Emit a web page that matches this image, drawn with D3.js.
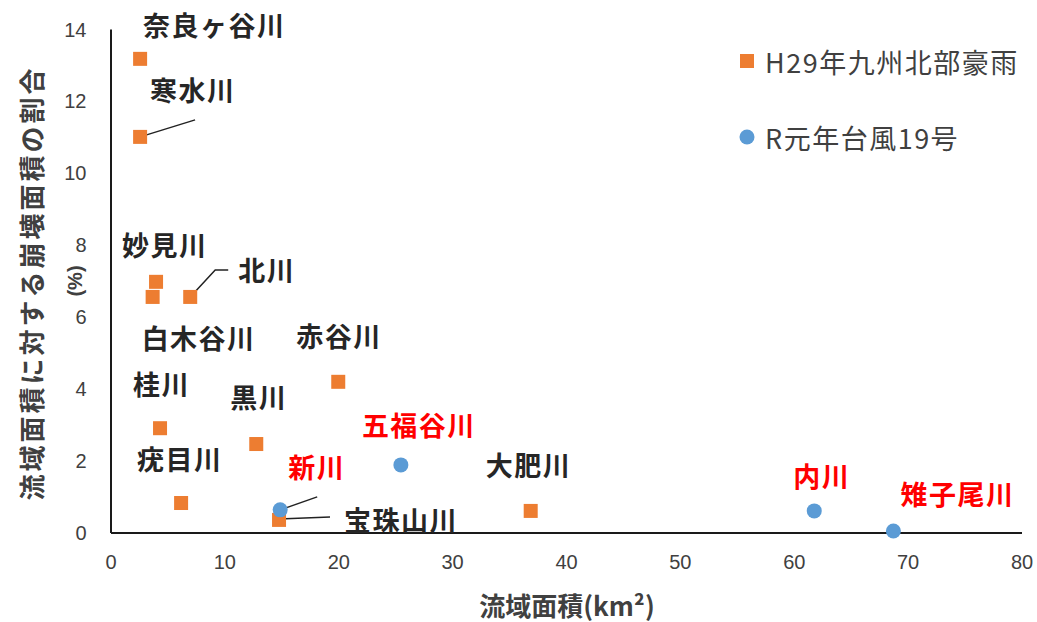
<!DOCTYPE html>
<html>
<head>
<meta charset="utf-8">
<script src="https://cdn.jsdelivr.net/npm/d3@7"></script>
<style>
  body { margin: 0; background: #fff; }
  svg { display: block; }
</style>
</head>
<body>
<svg id="chart" width="1037" height="622"></svg>
<script>
// H29年九州北部豪雨 rivers
const h29Names = ["奈良ヶ谷川", "寒水川", "妙見川", "白木谷川", "北川", "赤谷川", "桂川", "黒川", "疣目川", "宝珠山川", "大肥川"];
const h29Area  = [2.6, 2.6, 4.0, 3.7, 7.0, 20.0, 4.35, 12.8, 6.2, 14.8, 36.9];
const h29Ratio = [13.17, 11.0, 6.97, 6.55, 6.55, 4.19, 2.9, 2.46, 0.82, 0.35, 0.6];

// R元年台風19号 rivers
const r1Names = ["新川", "五福谷川", "内川", "雉子尾川"];
const r1Area  = [14.9, 25.5, 61.8, 68.75];
const r1Ratio = [0.63, 1.88, 0.6, 0.04];

const seriesNames = ["H29年九州北部豪雨", "R元年台風19号"];
const xTicks = [0, 10, 20, 30, 40, 50, 60, 70, 80];
const yTicks = [0, 2, 4, 6, 8, 10, 12, 14];
const xTitle = "流域面積(km²)";
const yTitle = "流域面積に対する崩壊面積の割合";
const yUnit = "(%)";

// label placement: offsets (px) from the marker, optional leader polyline
const labelLayout = {
  "奈良ヶ谷川": { dx: 3,   dy: -34 },
  "寒水川":     { dx: 10,  dy: -47, leader: [[0, 0], [55, -17]] },
  "妙見川":     { dx: -34, dy: -37 },
  "白木谷川":   { dx: -11, dy: 41 },
  "北川":       { dx: 48,  dy: -27, leader: [[0, 0], [25, -27], [38, -27]] },
  "赤谷川":     { dx: -42, dy: -46 },
  "桂川":       { dx: -27, dy: -45 },
  "黒川":       { dx: -26, dy: -48 },
  "疣目川":     { dx: -44, dy: -45 },
  "宝珠山川":   { dx: 65,  dy: 0,   leader: [[0, -1], [51, -3]] },
  "大肥川":     { dx: -45, dy: -46 },
  "新川":       { dx: 8,   dy: -43, leader: [[0, 0], [37, -13]] },
  "五福谷川":   { dx: -39, dy: -40 },
  "内川":       { dx: -21, dy: -35 },
  "雉子尾川":   { dx: 7,   dy: -38 }
};

const orange = "#ED7D31";
const blue = "#5B9BD5";
const cjk = "'Noto Sans CJK JP', 'Noto Sans', sans-serif";
const latin = "'Liberation Sans', Arial, sans-serif";

const svg = d3.select("#chart");
const x = d3.scaleLinear().domain([0, 80]).range([110.5, 1021.5]);
const y = d3.scaleLinear().domain([0, 14]).range([532.5, 29]);

// axes (no tick marks, only baseline + labels)
const xAxis = d3.axisBottom(x).tickValues(xTicks).tickSize(0).tickPadding(24);
const yAxis = d3.axisLeft(y).tickValues(yTicks).tickSize(0).tickPadding(24);

const gx = svg.append("g").attr("transform", `translate(0,${y(0)})`).call(xAxis);
const gy = svg.append("g").attr("transform", `translate(${x(0)},0)`).call(yAxis);
[gx, gy].forEach(g => {
  g.select(".domain").attr("stroke", "#1a1a1a").attr("stroke-width", 2);
  g.selectAll("text")
    .attr("fill", "#404040")
    .style("font-family", latin)
    .style("font-size", "20px");
});
gy.selectAll("text").attr("dy", "0.35em");
gx.selectAll("text").attr("dy", "0.6em");

// axis titles
svg.append("text")
  .attr("x", 567).attr("y", 604)
  .attr("text-anchor", "middle").attr("dominant-baseline", "central")
  .attr("fill", "#404040")
  .style("font-family", cjk).style("font-size", "26px").style("font-weight", "bold")
  .text(xTitle);

svg.append("text")
  .attr("transform", "translate(30,283) rotate(-90)")
  .attr("text-anchor", "middle").attr("dominant-baseline", "central")
  .attr("fill", "#404040")
  .style("font-family", cjk).style("font-size", "26px").style("font-weight", "bold")
  .style("letter-spacing", "3px")
  .text(yTitle);

svg.append("text")
  .attr("transform", "translate(75,281) rotate(-90)")
  .attr("text-anchor", "middle").attr("dominant-baseline", "central")
  .attr("fill", "#404040")
  .style("font-family", latin).style("font-size", "20px").style("font-weight", "bold")
  .text(yUnit);

// points
const h29 = h29Names.map((n, i) => ({ name: n, area: h29Area[i], ratio: h29Ratio[i], series: 0 }));
const r1 = r1Names.map((n, i) => ({ name: n, area: r1Area[i], ratio: r1Ratio[i], series: 1 }));

// leader lines
const leaderGroup = svg.append("g");
[...h29, ...r1].forEach(d => {
  const lay = labelLayout[d.name];
  if (!lay || !lay.leader) return;
  const px = x(d.area), py = y(d.ratio);
  leaderGroup.append("path")
    .attr("d", d3.line()(lay.leader.map(p => [px + p[0], py + p[1]])))
    .attr("fill", "none").attr("stroke", "#222").attr("stroke-width", 1.5);
});

const sq = 14;
svg.append("g").selectAll("rect").data(h29).join("rect")
  .attr("x", d => x(d.area) - sq / 2)
  .attr("y", d => y(d.ratio) - sq / 2)
  .attr("width", sq).attr("height", sq)
  .attr("fill", orange);

svg.append("g").selectAll("circle").data(r1).join("circle")
  .attr("cx", d => x(d.area))
  .attr("cy", d => y(d.ratio))
  .attr("r", 7.5)
  .attr("fill", blue);

// data labels
svg.append("g").selectAll("text").data([...h29, ...r1]).join("text")
  .attr("x", d => x(d.area) + labelLayout[d.name].dx)
  .attr("y", d => y(d.ratio) + labelLayout[d.name].dy)
  .attr("dominant-baseline", "central")
  .attr("fill", d => d.series === 0 ? "#262626" : "#FF0000")
  .style("font-family", cjk).style("font-size", "27px").style("font-weight", "bold")
  .style("letter-spacing", "1.5px")
  .text(d => d.name);

// legend
const legend = svg.append("g");
const legendRows = [
  { name: seriesNames[0], cy: 61, series: 0 },
  { name: seriesNames[1], cy: 137, series: 1 }
];
legendRows.forEach(r => {
  if (r.series === 0) {
    legend.append("rect").attr("x", 747 - 7).attr("y", r.cy - 7)
      .attr("width", 14).attr("height", 14).attr("fill", orange);
  } else {
    legend.append("circle").attr("cx", 747).attr("cy", r.cy).attr("r", 7.5).attr("fill", blue);
  }
  legend.append("text")
    .attr("x", 765).attr("y", r.cy)
    .attr("dominant-baseline", "central")
    .attr("fill", "#404040")
    .style("font-family", cjk).style("font-size", "27px")
    .style("letter-spacing", "1.5px")
    .text(r.name);
});
</script>
</body>
</html>
